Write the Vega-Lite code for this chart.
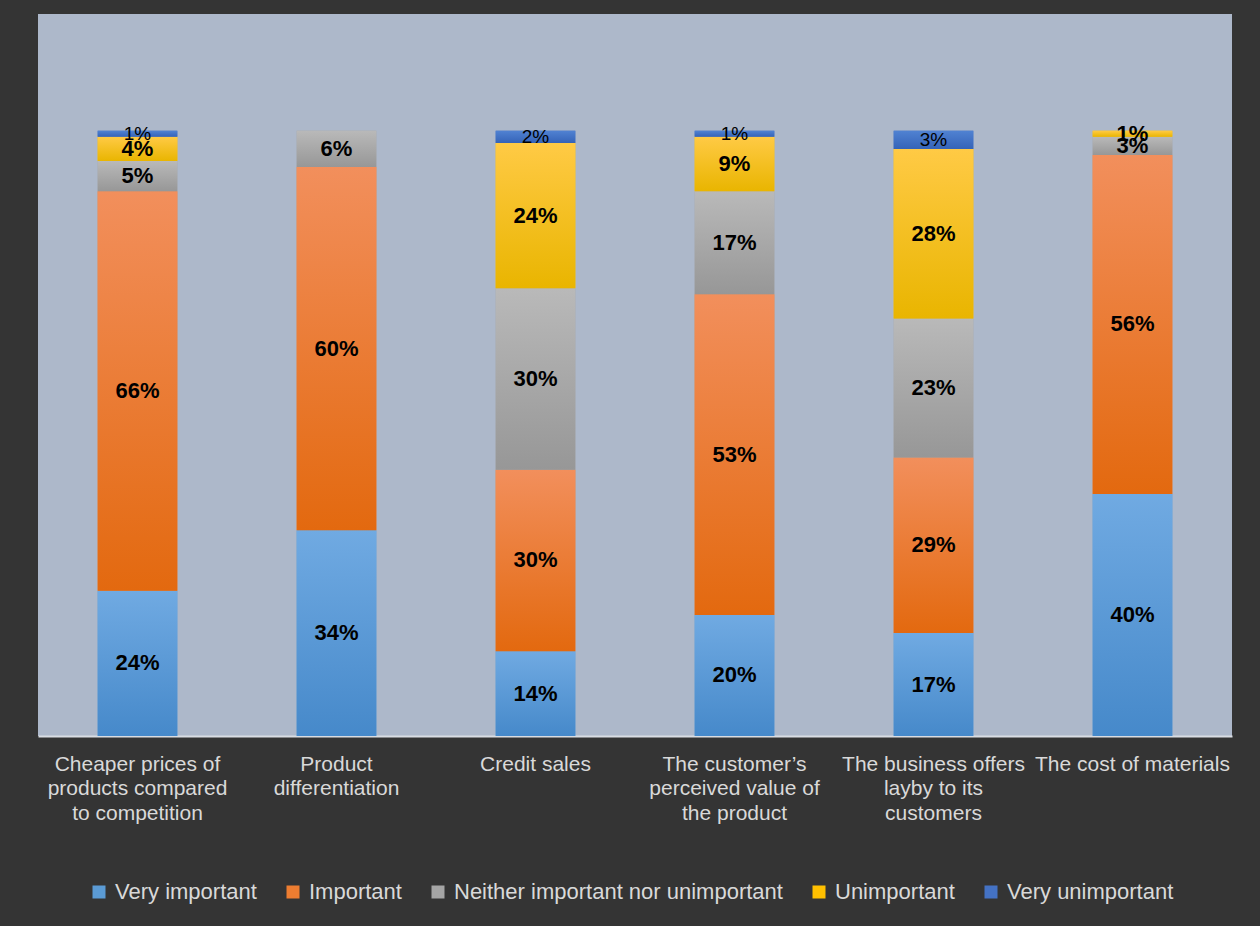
{
  "$schema": "https://vega.github.io/schema/vega-lite/v6.json",
  "width": 1194,
  "height": 722,
  "autosize": {"type": "none"},
  "padding": {"left": 38, "top": 14, "right": 28, "bottom": 190},
  "background": "#343434",
  "config": {"view": {"fill": "#adb8ca", "stroke": null}, "font": "Liberation Sans"},
  "data": {"values": [
    {"factor": "Cheaper prices of products compared to competition", "level": "Very important", "rank": 1, "pct": 0.24},
    {"factor": "Cheaper prices of products compared to competition", "level": "Important", "rank": 2, "pct": 0.66},
    {"factor": "Cheaper prices of products compared to competition", "level": "Neither important nor unimportant", "rank": 3, "pct": 0.05},
    {"factor": "Cheaper prices of products compared to competition", "level": "Unimportant", "rank": 4, "pct": 0.04},
    {"factor": "Cheaper prices of products compared to competition", "level": "Very unimportant", "rank": 5, "pct": 0.01},
    {"factor": "Product differentiation", "level": "Very important", "rank": 1, "pct": 0.34},
    {"factor": "Product differentiation", "level": "Important", "rank": 2, "pct": 0.60},
    {"factor": "Product differentiation", "level": "Neither important nor unimportant", "rank": 3, "pct": 0.06},
    {"factor": "Credit sales", "level": "Very important", "rank": 1, "pct": 0.14},
    {"factor": "Credit sales", "level": "Important", "rank": 2, "pct": 0.30},
    {"factor": "Credit sales", "level": "Neither important nor unimportant", "rank": 3, "pct": 0.30},
    {"factor": "Credit sales", "level": "Unimportant", "rank": 4, "pct": 0.24},
    {"factor": "Credit sales", "level": "Very unimportant", "rank": 5, "pct": 0.02},
    {"factor": "The customer’s perceived value of the product", "level": "Very important", "rank": 1, "pct": 0.20},
    {"factor": "The customer’s perceived value of the product", "level": "Important", "rank": 2, "pct": 0.53},
    {"factor": "The customer’s perceived value of the product", "level": "Neither important nor unimportant", "rank": 3, "pct": 0.17},
    {"factor": "The customer’s perceived value of the product", "level": "Unimportant", "rank": 4, "pct": 0.09},
    {"factor": "The customer’s perceived value of the product", "level": "Very unimportant", "rank": 5, "pct": 0.01},
    {"factor": "The business offers layby to its customers", "level": "Very important", "rank": 1, "pct": 0.17},
    {"factor": "The business offers layby to its customers", "level": "Important", "rank": 2, "pct": 0.29},
    {"factor": "The business offers layby to its customers", "level": "Neither important nor unimportant", "rank": 3, "pct": 0.23},
    {"factor": "The business offers layby to its customers", "level": "Unimportant", "rank": 4, "pct": 0.28},
    {"factor": "The business offers layby to its customers", "level": "Very unimportant", "rank": 5, "pct": 0.03},
    {"factor": "The cost of materials", "level": "Very important", "rank": 1, "pct": 0.40},
    {"factor": "The cost of materials", "level": "Important", "rank": 2, "pct": 0.56},
    {"factor": "The cost of materials", "level": "Neither important nor unimportant", "rank": 3, "pct": 0.03},
    {"factor": "The cost of materials", "level": "Unimportant", "rank": 4, "pct": 0.01}
  ]},
  "encoding": {
    "x": {
      "field": "factor",
      "type": "nominal",
      "sort": ["Cheaper prices of products compared to competition", "Product differentiation", "Credit sales", "The customer’s perceived value of the product", "The business offers layby to its customers", "The cost of materials"],
      "scale": {"paddingInner": 0.6, "paddingOuter": 0.3},
      "axis": {
        "title": null,
        "labelAngle": 0,
        "labelColor": "#d9d9d9",
        "labelFontSize": 21,
        "labelFont": "Liberation Sans",
        "labelLineHeight": 24.5,
        "labelPadding": 17,
        "labelBaseline": "top",
        "labelLimit": 400,
        "labelOverlap": false,
        "labelBound": false,
        "ticks": false,
        "domainColor": "#d9dde3",
        "domainWidth": 2,
        "grid": false,
        "labelExpr": "datum.value == 'Cheaper prices of products compared to competition' ? ['Cheaper prices of','products compared','to competition'] : datum.value == 'Product differentiation' ? ['Product','differentiation'] : datum.value == 'The customer’s perceived value of the product' ? ['The  customer’s','perceived  value  of','the product'] : datum.value == 'The business offers layby to its customers' ? ['The business offers','layby to its','customers'] : datum.value"
      }
    }
  },
  "layer": [
    {
      "mark": {"type": "bar"},
      "encoding": {
        "y": {
          "field": "pct",
          "type": "quantitative",
          "stack": "zero",
          "scale": {"domain": [0, 1.193], "nice": false, "zero": true},
          "axis": {"grid": true, "values": [0.2, 0.4, 0.6, 0.8, 1.0], "labels": false, "ticks": false, "domain": false, "title": null, "gridColor": "#bcc6d5", "gridWidth": 1.2}
        },
        "color": {
          "field": "level",
          "type": "nominal",
          "scale": {
            "domain": ["Very important", "Important", "Neither important nor unimportant", "Unimportant", "Very unimportant"],
            "range": ["#5b9bd5", "#ed7d31", "#a5a5a5", "#ffc000", "#4472c4"]
          },
          "legend": {
            "orient": "none",
            "legendX": 50,
            "legendY": 867,
            "direction": "horizontal",
            "title": null,
            "labelColor": "#d9d9d9",
            "labelFontSize": 22,
            "labelFont": "Liberation Sans",
            "symbolType": "square",
            "symbolSize": 169,
            "symbolStrokeWidth": 0,
            "columnPadding": 25,
            "labelOffset": 5,
            "labelLimit": 500
          }
        },
        "order": {"field": "rank", "type": "quantitative", "sort": "ascending"}
      }
    },
    {
      "mark": {"type": "bar"},
      "encoding": {
        "y": {"field": "pct", "type": "quantitative", "stack": "zero"},
        "detail": {"field": "level", "type": "nominal"},
        "order": {"field": "rank", "type": "quantitative", "sort": "ascending"},
        "fill": {
          "condition": [
            {"test": "datum.rank == 1", "value": {"gradient": "linear", "x1": 0, "y1": 0, "x2": 0, "y2": 1, "stops": [{"offset": 0, "color": "#70aae2"}, {"offset": 1, "color": "#4689ca"}]}},
            {"test": "datum.rank == 2", "value": {"gradient": "linear", "x1": 0, "y1": 0, "x2": 0, "y2": 1, "stops": [{"offset": 0, "color": "#f28f5c"}, {"offset": 1, "color": "#e3690f"}]}},
            {"test": "datum.rank == 3", "value": {"gradient": "linear", "x1": 0, "y1": 0, "x2": 0, "y2": 1, "stops": [{"offset": 0, "color": "#b9b9b9"}, {"offset": 1, "color": "#979797"}]}},
            {"test": "datum.rank == 4", "value": {"gradient": "linear", "x1": 0, "y1": 0, "x2": 0, "y2": 1, "stops": [{"offset": 0, "color": "#ffca45"}, {"offset": 1, "color": "#e9b500"}]}}
          ],
          "value": {"gradient": "linear", "x1": 0, "y1": 0, "x2": 0, "y2": 1, "stops": [{"offset": 0, "color": "#5082d2"}, {"offset": 1, "color": "#3563b8"}]}
        }
      }
    },
    {
      "transform": [
        {"stack": "pct", "groupby": ["factor"], "sort": [{"field": "rank", "order": "ascending"}], "as": ["y0", "y1"]},
        {"calculate": "(datum.y0 + datum.y1) / 2", "as": "mid"},
        {"filter": "datum.rank < 5"}
      ],
      "mark": {"type": "text", "fontWeight": "bold", "fontSize": 22, "color": "#000000", "baseline": "middle", "font": "Liberation Sans"},
      "encoding": {
        "y": {"field": "mid", "type": "quantitative", "axis": null},
        "text": {"field": "pct", "type": "quantitative", "format": ".0%"}
      }
    },
    {
      "transform": [
        {"stack": "pct", "groupby": ["factor"], "sort": [{"field": "rank", "order": "ascending"}], "as": ["y0", "y1"]},
        {"calculate": "(datum.y0 + datum.y1) / 2", "as": "mid"},
        {"filter": "datum.rank == 5"}
      ],
      "mark": {"type": "text", "fontWeight": "normal", "fontSize": 19, "color": "#000000", "baseline": "middle", "font": "Liberation Sans"},
      "encoding": {
        "y": {"field": "mid", "type": "quantitative", "axis": null},
        "text": {"field": "pct", "type": "quantitative", "format": ".0%"}
      }
    }
  ]
}
